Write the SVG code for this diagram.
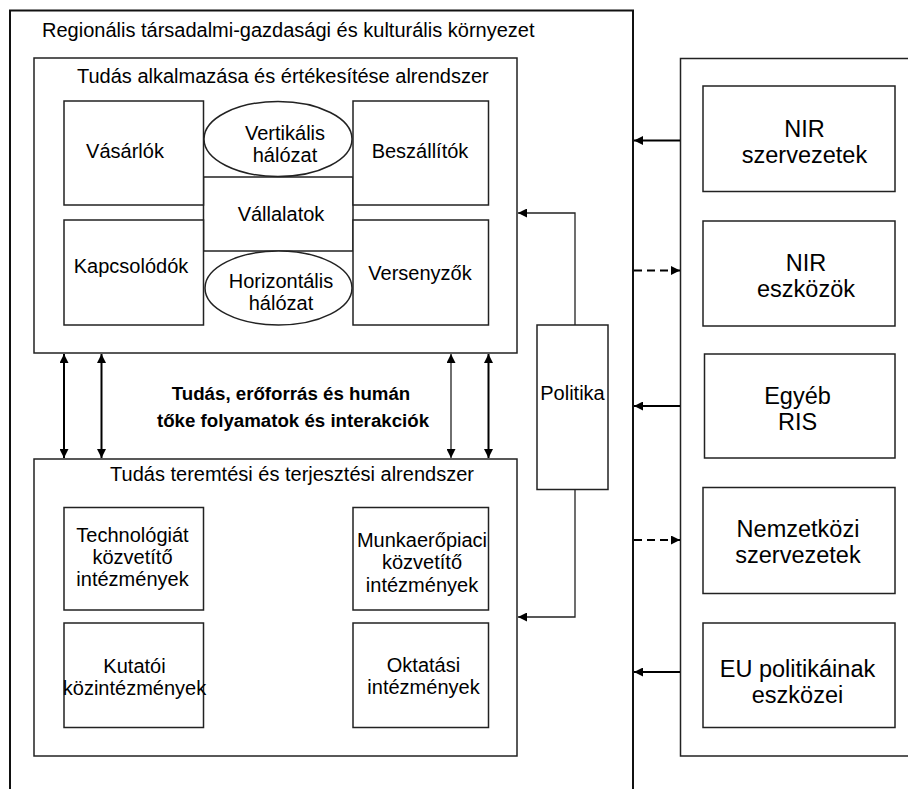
<svg xmlns="http://www.w3.org/2000/svg" width="908" height="789" viewBox="0 0 908 789">
  <defs>
    <style>
      text { font-family: "Liberation Sans", Arial, sans-serif; font-size: 20px; fill: #000; }
      .mid { text-anchor: middle; }
      .big { font-size: 23.5px; }
      .bold { font-weight: bold; font-size: 18.7px; }
      .box { fill: #fff; stroke: #222; stroke-width: 1.5; }
      .frame { fill: none; stroke: #111; stroke-width: 2; }
      .link { fill: none; stroke: #000; stroke-width: 2; }
      .thin { fill: none; stroke: #222; stroke-width: 1.3; }
      .dash { stroke-dasharray: 8 5; }
    </style>
    <marker id="arrow" viewBox="0 0 10 10" refX="10" refY="5" markerWidth="11" markerHeight="9" markerUnits="userSpaceOnUse" orient="auto-start-reverse">
      <path d="M0,0 L10,5 L0,10 Z" fill="#000"/>
    </marker>
  </defs>

  <!-- regional environment frame (open at the bottom) -->
  <g id="environment">
    <path class="frame" d="M10,789 V10.5 H633 V789"/>
    <text x="42" y="37">Regionális társadalmi-gazdasági és kulturális környezet</text>
  </g>

  <!-- knowledge application and exploitation subsystem -->
  <g id="application-subsystem">
    <rect class="box" x="34" y="58" width="483" height="295"/>
    <text x="77" y="83">Tudás alkalmazása és értékesítése alrendszer</text>
  </g>
  <g id="vallalatok">
    <rect class="box" x="203.5" y="177" width="149.5" height="74"/>
    <text class="mid" x="281" y="221">Vállalatok</text>
  </g>
  <g id="vasarlok">
    <rect class="box" x="64" y="101" width="139.5" height="104"/>
    <text class="mid" x="125" y="158">Vásárlók</text>
  </g>
  <g id="beszallitok">
    <rect class="box" x="353" y="101" width="135.5" height="104"/>
    <text class="mid" x="420" y="158">Beszállítók</text>
  </g>
  <g id="kapcsolodok">
    <rect class="box" x="64" y="220" width="139.5" height="105"/>
    <text class="mid" x="131" y="273">Kapcsolódók</text>
  </g>
  <g id="versenyzok">
    <rect class="box" x="353" y="220" width="135.5" height="105"/>
    <text class="mid" x="420" y="280">Versenyzők</text>
  </g>
  <g id="vertikalis-halozat">
    <ellipse class="box" cx="278" cy="139" rx="74" ry="37.5"/>
    <text class="mid" x="285" y="140">Vertikális</text>
    <text class="mid" x="285" y="162">hálózat</text>
  </g>
  <g id="horizontalis-halozat">
    <ellipse class="box" cx="278.5" cy="288" rx="73.5" ry="37"/>
    <text class="mid" x="281" y="288">Horizontális</text>
    <text class="mid" x="281" y="310">hálózat</text>
  </g>

  <!-- knowledge generation and diffusion subsystem -->
  <g id="generation-subsystem">
    <rect class="box" x="34" y="459" width="483" height="297"/>
    <text class="mid" x="292" y="481">Tudás teremtési és terjesztési alrendszer</text>
  </g>
  <g id="technologia">
    <rect class="box" x="64" y="507.5" width="139.5" height="102.5"/>
    <text class="mid" x="132.5" y="542">Technológiát</text>
    <text class="mid" x="132.5" y="564">közvetítő</text>
    <text class="mid" x="132.5" y="586">intézmények</text>
  </g>
  <g id="kutatoi">
    <rect class="box" x="64" y="623" width="139.5" height="104.5"/>
    <text class="mid" x="134.5" y="673">Kutatói</text>
    <text class="mid" x="134.5" y="695">közintézmények</text>
  </g>
  <g id="munkaeropiaci">
    <rect class="box" x="353" y="507.5" width="135.5" height="102.5"/>
    <text class="mid" x="422" y="547">Munkaerőpiaci</text>
    <text class="mid" x="422" y="569">közvetítő</text>
    <text class="mid" x="422" y="592">intézmények</text>
  </g>
  <g id="oktatasi">
    <rect class="box" x="353" y="623" width="135.5" height="104.5"/>
    <text class="mid" x="423.5" y="672">Oktatási</text>
    <text class="mid" x="423.5" y="694">intézmények</text>
  </g>

  <!-- flows between the two subsystems -->
  <g id="flows-label">
    <text class="mid bold" x="291" y="400">Tudás, erőforrás és humán</text>
    <text class="mid bold" x="293" y="427">tőke folyamatok és interakciók</text>
  </g>

  <!-- policy -->
  <g id="politika">
    <rect class="box" x="537" y="325" width="71" height="164.5"/>
    <text class="mid" x="572.5" y="400">Politika</text>
  </g>

  <!-- external environment -->
  <g id="external">
    <path class="box" d="M910,58.5 H680.5 V756 H910"/>
  </g>
  <g id="nir-szervezetek">
    <rect class="box" x="703" y="86" width="192" height="105.5"/>
    <text class="mid big" x="804.5" y="137">NIR</text>
    <text class="mid big" x="804.5" y="163">szervezetek</text>
  </g>
  <g id="nir-eszkozok">
    <rect class="box" x="703" y="221" width="192" height="105"/>
    <text class="mid big" x="806" y="271">NIR</text>
    <text class="mid big" x="806" y="297">eszközök</text>
  </g>
  <g id="egyeb-ris">
    <rect class="box" x="704.5" y="354" width="190.5" height="104"/>
    <text class="mid big" x="797.5" y="404">Egyéb</text>
    <text class="mid big" x="797.5" y="430">RIS</text>
  </g>
  <g id="nemzetkozi">
    <rect class="box" x="703" y="487.5" width="192" height="106"/>
    <text class="mid big" x="798" y="537">Nemzetközi</text>
    <text class="mid big" x="798" y="563">szervezetek</text>
  </g>
  <g id="eu-politikak">
    <rect class="box" x="703" y="623" width="192" height="104.5"/>
    <text class="mid big" x="797.5" y="677">EU politikáinak</text>
    <text class="mid big" x="797.5" y="703">eszközei</text>
  </g>

  <!-- connectors -->
  <g id="connectors">
    <line class="link" x1="64" y1="354" x2="64" y2="458" marker-start="url(#arrow)" marker-end="url(#arrow)"/>
    <line class="link" x1="101.5" y1="354" x2="101.5" y2="458" marker-start="url(#arrow)" marker-end="url(#arrow)"/>
    <line class="thin" x1="451" y1="354" x2="451" y2="458" marker-start="url(#arrow)" marker-end="url(#arrow)"/>
    <line class="link" x1="488.5" y1="354" x2="488.5" y2="458" marker-start="url(#arrow)" marker-end="url(#arrow)"/>

    <path class="thin" d="M575,325 V213 H518" marker-end="url(#arrow)"/>
    <path class="thin" d="M575,489.5 V617 H518" marker-end="url(#arrow)"/>

    <line class="link" x1="680" y1="140.5" x2="634" y2="140.5" marker-end="url(#arrow)"/>
    <line class="link dash" x1="634" y1="270.5" x2="680" y2="270.5" marker-end="url(#arrow)"/>
    <line class="link" x1="680" y1="406" x2="634" y2="406" marker-end="url(#arrow)"/>
    <line class="link dash" x1="634" y1="540" x2="680" y2="540" marker-end="url(#arrow)"/>
    <line class="link" x1="680" y1="672" x2="634" y2="672" marker-end="url(#arrow)"/>
  </g>
</svg>
